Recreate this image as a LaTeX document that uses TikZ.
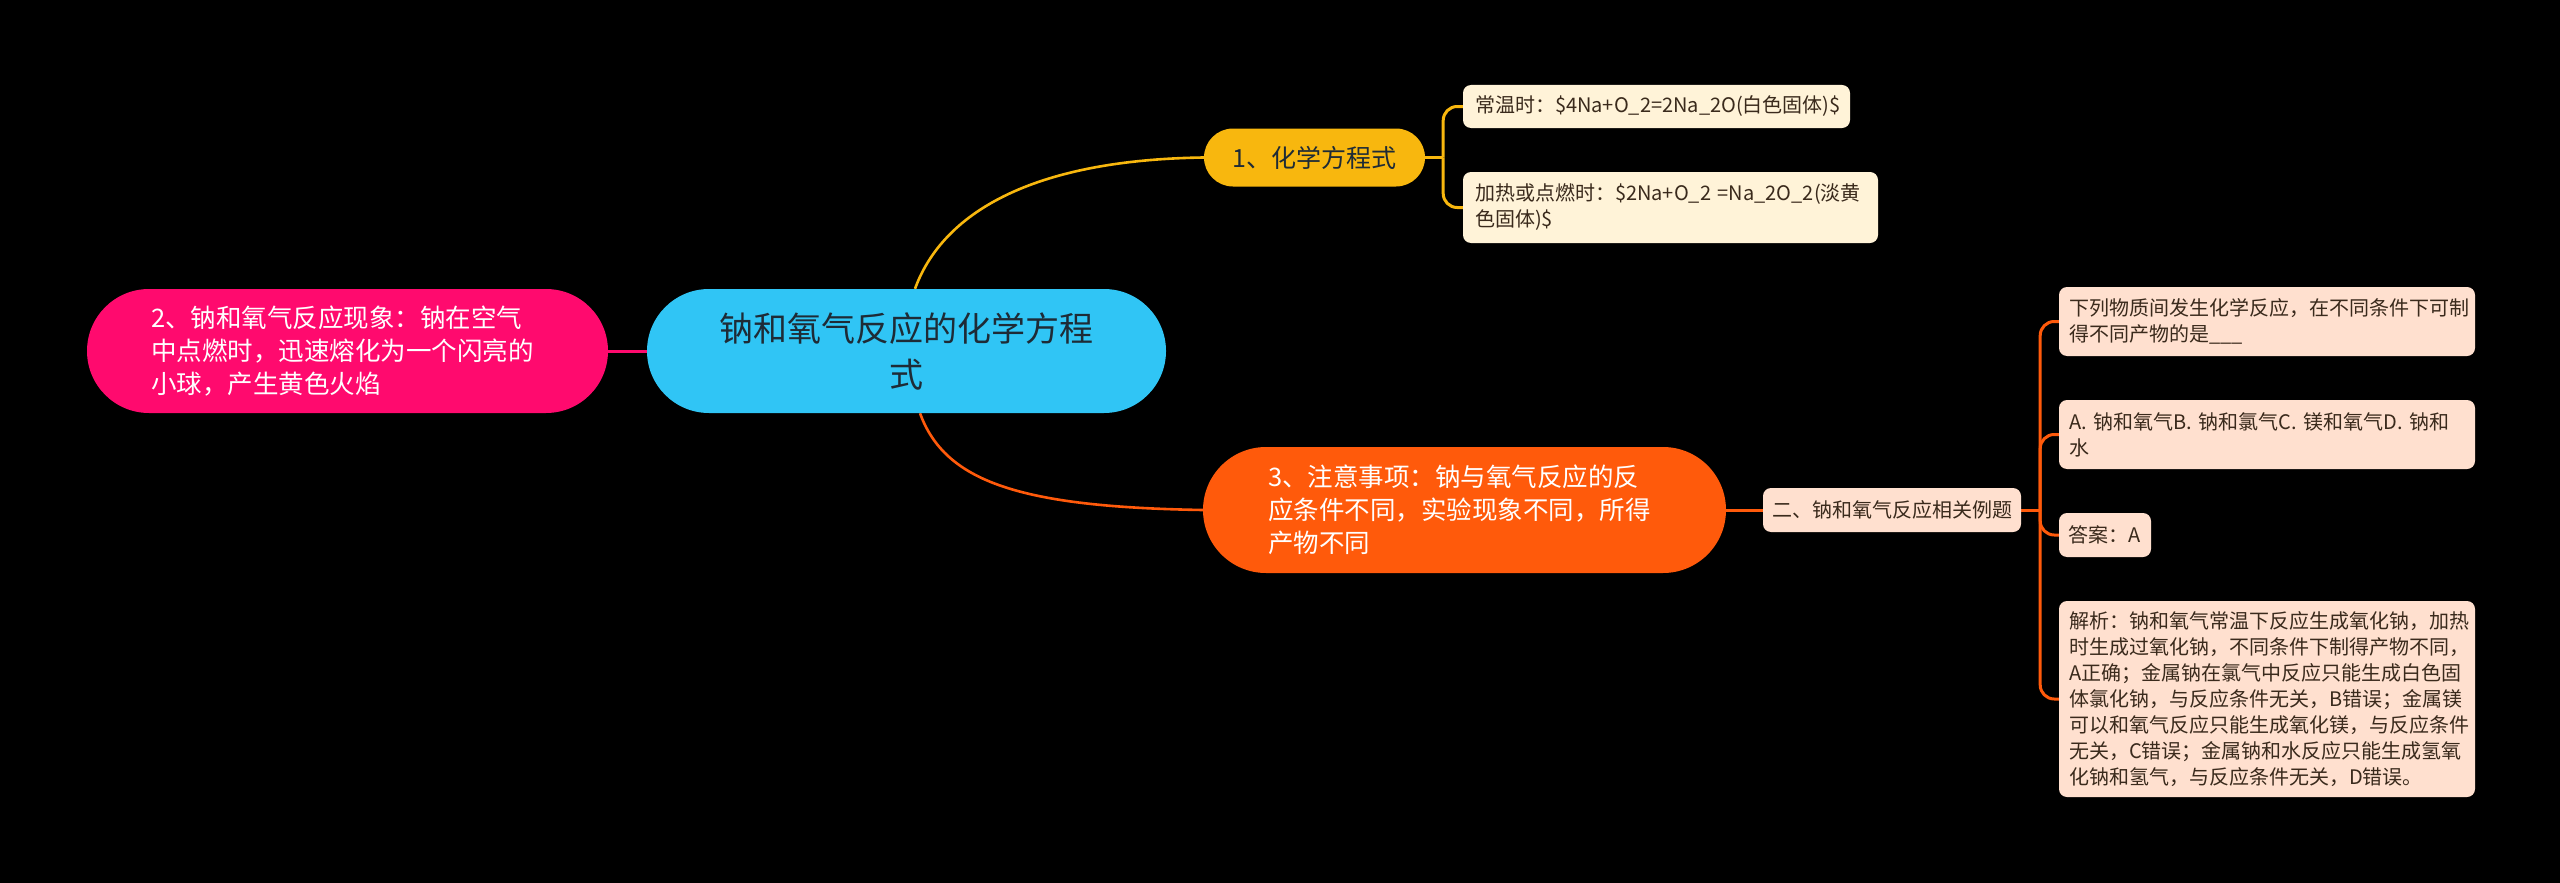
\documentclass[tikz,border=0pt]{standalone}
\usepackage{fontspec}
\setmainfont{Noto Sans CJK SC}
\usetikzlibrary{calc}
\pgfdeclarelayer{bg}
\pgfdeclarelayer{background}
\pgfsetlayers{bg,background,main}
\definecolor{cRoot}{HTML}{30C5F5}
\definecolor{cPink}{HTML}{FF0A6E}
\definecolor{cYel}{HTML}{F8B70E}
\definecolor{cOra}{HTML}{FF5A0B}
\definecolor{cCream}{HTML}{FFF3D8}
\definecolor{cPeach}{HTML}{FFE0CF}
\definecolor{cDark}{HTML}{1E2B36}
\definecolor{cBrown}{HTML}{3A2A1C}
\tikzset{
  pill/.style={inner ysep=0pt, align=left, font=\fontsize{25.5}{33}\selectfont, text=white},
  box/.style={inner ysep=0pt, rounded corners=8pt, text=cBrown, align=left, font=\fontsize{20}{26}\selectfont},
  conn/.style={line width=2.6pt},
  brk/.style={line width=3pt, rounded corners=14pt},
}
\begin{document}
\begin{tikzpicture}[x=1pt,y=-1pt]
\useasboundingbox (0,0) rectangle (2560,883);
\begin{pgfonlayer}{bg}
\fill[black] (0,0) rectangle (2560,883);
\end{pgfonlayer}

% root
\node[fill=cRoot, rounded corners=62pt, minimum height=124pt, text width=440pt, inner xsep=39.5pt, inner ysep=0pt,
      align=center, text=cDark, font=\fontsize{34}{46}\selectfont] (root) at (906.5,351) {钠和氧气反应的化学方程\\式};

% left branch
\node[pill, fill=cPink, rounded corners=62pt, minimum height=124pt, text width=393pt, inner xsep=64pt] (left) at (347.5,351)
  {2、钠和氧气反应现象：钠在空气\\中点燃时，迅速熔化为一个闪亮的\\小球，产生黄色火焰};

% branch 1
\node[fill=cYel, rounded corners=29pt, minimum height=58pt, minimum width=221pt, inner sep=0pt, text=cDark,
      font=\fontsize{25}{30}\selectfont] (n1) at (1314.5,157.5) {1、化学方程式};
\node[box, fill=cCream, minimum height=43pt, text width=363pt, inner xsep=12pt] (a) at (1656.5,106.5)
  {常温时：\$4Na+O\_2=2Na\_2O(白色固体)\$};
\node[box, fill=cCream, minimum height=71pt, text width=391pt, inner xsep=12pt] (b) at (1670.5,207.5)
  {加热或点燃时：\$2Na+O\_2 =Na\_2O\_2(淡黄\\色固体)\$};

% branch 3
\node[pill, fill=cOra, rounded corners=63pt, minimum height=126pt, text width=393pt, inner xsep=65pt] (n3) at (1464.5,510)
  {3、注意事项：钠与氧气反应的反\\应条件不同，实验现象不同，所得\\产物不同};
\node[box, fill=cPeach, minimum height=44pt, minimum width=258pt, inner xsep=0pt, align=center] (er) at (1892,510)
  {二、钠和氧气反应相关例题};
\node[box, fill=cPeach, minimum height=69pt, text width=396pt, inner xsep=10pt] (q) at (2267,321.5)
  {下列物质间发生化学反应，在不同条件下可制\\得不同产物的是\_\_\_};
\node[box, fill=cPeach, minimum height=69pt, text width=396pt, inner xsep=10pt] (opt) at (2267,434.5)
  {A. 钠和氧气B. 钠和氯气C. 镁和氧气D. 钠和\\水};
\node[box, fill=cPeach, minimum height=44pt, minimum width=92pt, inner xsep=8pt] (ans) at (2105,535)
  {答案：A};
\node[box, fill=cPeach, minimum height=196pt, text width=396pt, inner xsep=10pt] (parse) at (2267,699)
  {解析：钠和氧气常温下反应生成氧化钠，加热\\时生成过氧化钠，不同条件下制得产物不同，\\A正确；金属钠在氯气中反应只能生成白色固\\体氯化钠，与反应条件无关，B错误；金属镁\\可以和氧气反应只能生成氧化镁，与反应条件\\无关，C错误；金属钠和水反应只能生成氢氧\\化钠和氢气，与反应条件无关，D错误。};

\coordinate (yj) at ($(n1.east)+(18,0)$);
\coordinate (oj) at ($(er.east)+(19,0)$);

\begin{pgfonlayer}{background}
\draw[conn, cYel] ($(root.north)+(8.5,0)$) .. controls (940,220) and (1020,160) .. (n1.west);
\draw[conn, cOra] ($(root.south)+(13.5,0)$) .. controls (945,482) and (1020,507) .. (n3.west);
\draw[line width=3pt, cPink] (left.east) -- (root.west);
\draw[line width=3pt, cOra] (n3.east) -- (er.west);
\draw[line width=3pt, cYel] (n1.east) -- (yj);
\draw[brk, cYel] (yj) |- (a.west);
\draw[brk, cYel] (yj) |- (b.west);
\draw[line width=3pt, cOra] (er.east) -- (oj);
\draw[brk, cOra] (oj) |- (q.west);
\draw[brk, cOra] (oj) |- (opt.west);
\draw[brk, cOra] (oj) |- (ans.west);
\draw[brk, cOra] (oj) |- (parse.west);
\end{pgfonlayer}
\end{tikzpicture}
\end{document}
